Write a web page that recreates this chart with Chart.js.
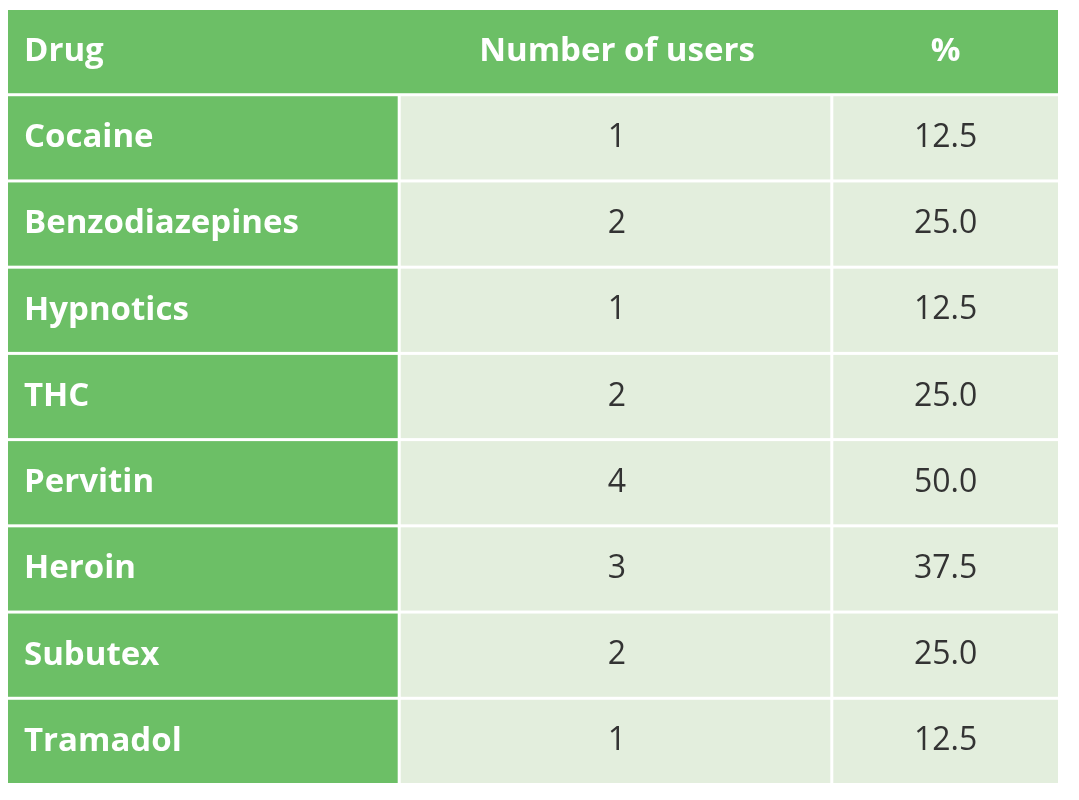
<!DOCTYPE html>
<html>
<head>
<meta charset="utf-8">
<script src="https://cdn.jsdelivr.net/npm/chart.js@4"></script>
<style>
  body { margin: 0; background: #fff; }
</style>
</head>
<body>
<canvas id="tbl" width="1079" height="800"></canvas>
<script>
'use strict';

// table content
const headers = ['Drug', 'Number of users', '%'];
const drugs = ['Cocaine', 'Benzodiazepines', 'Hypnotics', 'THC', 'Pervitin', 'Heroin', 'Subutex', 'Tramadol'];
const users = [1, 2, 1, 2, 4, 3, 2, 1];
const percents = ['12.5', '25.0', '12.5', '25.0', '50.0', '37.5', '25.0', '12.5'];

// column edges on the x scale (0..100)
const colEdges = [0, 37.4, 78.6, 100];
const rows = ['header'].concat(drugs);

const green = '#6cbf66';
const pale = '#e3eedd';
const gap = 3;

const tablePlugin = {
    id: 'table',
    afterDraw(chart) {
        const ctx = chart.ctx;
        const xs = chart.scales.x;
        const ys = chart.scales.y;
        const rowH = Math.abs(ys.getPixelForValue(1) - ys.getPixelForValue(0));
        ctx.save();
        ctx.textBaseline = 'middle';
        rows.forEach((r, i) => {
            const yc = ys.getPixelForValue(i);
            const top = yc - rowH / 2;
            for (let c = 0; c < 3; c++) {
                const x0 = xs.getPixelForValue(colEdges[c]);
                const x1 = xs.getPixelForValue(colEdges[c + 1]);
                let fill = pale;
                if (i === 0 || c === 0) fill = green;
                ctx.fillStyle = fill;
                if (i === 0) {
                    // header row is one continuous band
                    if (c === 0) {
                        ctx.fillRect(xs.getPixelForValue(0), top, xs.getPixelForValue(100) - xs.getPixelForValue(0), rowH - gap);
                    }
                } else {
                    ctx.fillRect(x0, top, x1 - x0 - (c < 2 ? gap : 0), rowH - gap);
                }
                let text, font, color;
                if (i === 0) {
                    text = headers[c];
                    font = 'bold 33px "Open Sans", "Noto Sans", sans-serif';
                    color = '#ffffff';
                } else if (c === 0) {
                    text = drugs[i - 1];
                    font = 'bold 33px "Open Sans", "Noto Sans", sans-serif';
                    color = '#ffffff';
                } else {
                    text = c === 1 ? String(users[i - 1]) : percents[i - 1];
                    font = '32px "Open Sans", "Noto Sans", sans-serif';
                    color = '#333333';
                }
                ctx.font = font;
                ctx.fillStyle = color;
                const ty = top + (rowH - gap) / 2;
                if (c === 0) {
                    ctx.textAlign = 'left';
                    ctx.fillText(text, x0 + 16, ty);
                } else {
                    ctx.textAlign = 'center';
                    ctx.fillText(text, (x0 + x1) / 2, ty);
                }
            }
        });
        ctx.restore();
    }
};

new Chart(document.getElementById('tbl'), {
    type: 'scatter',
    data: { labels: rows, datasets: [{ data: [] }] },
    options: {
        responsive: false,
        animation: false,
        layout: { padding: { left: 8, right: 21, top: 10, bottom: 14 } },
        plugins: { legend: { display: false }, tooltip: { enabled: false } },
        scales: {
            x: { type: 'linear', min: 0, max: 100, display: false },
            y: { type: 'category', labels: rows, offset: true, display: false }
        }
    },
    plugins: [tablePlugin]
});
</script>
</body>
</html>
